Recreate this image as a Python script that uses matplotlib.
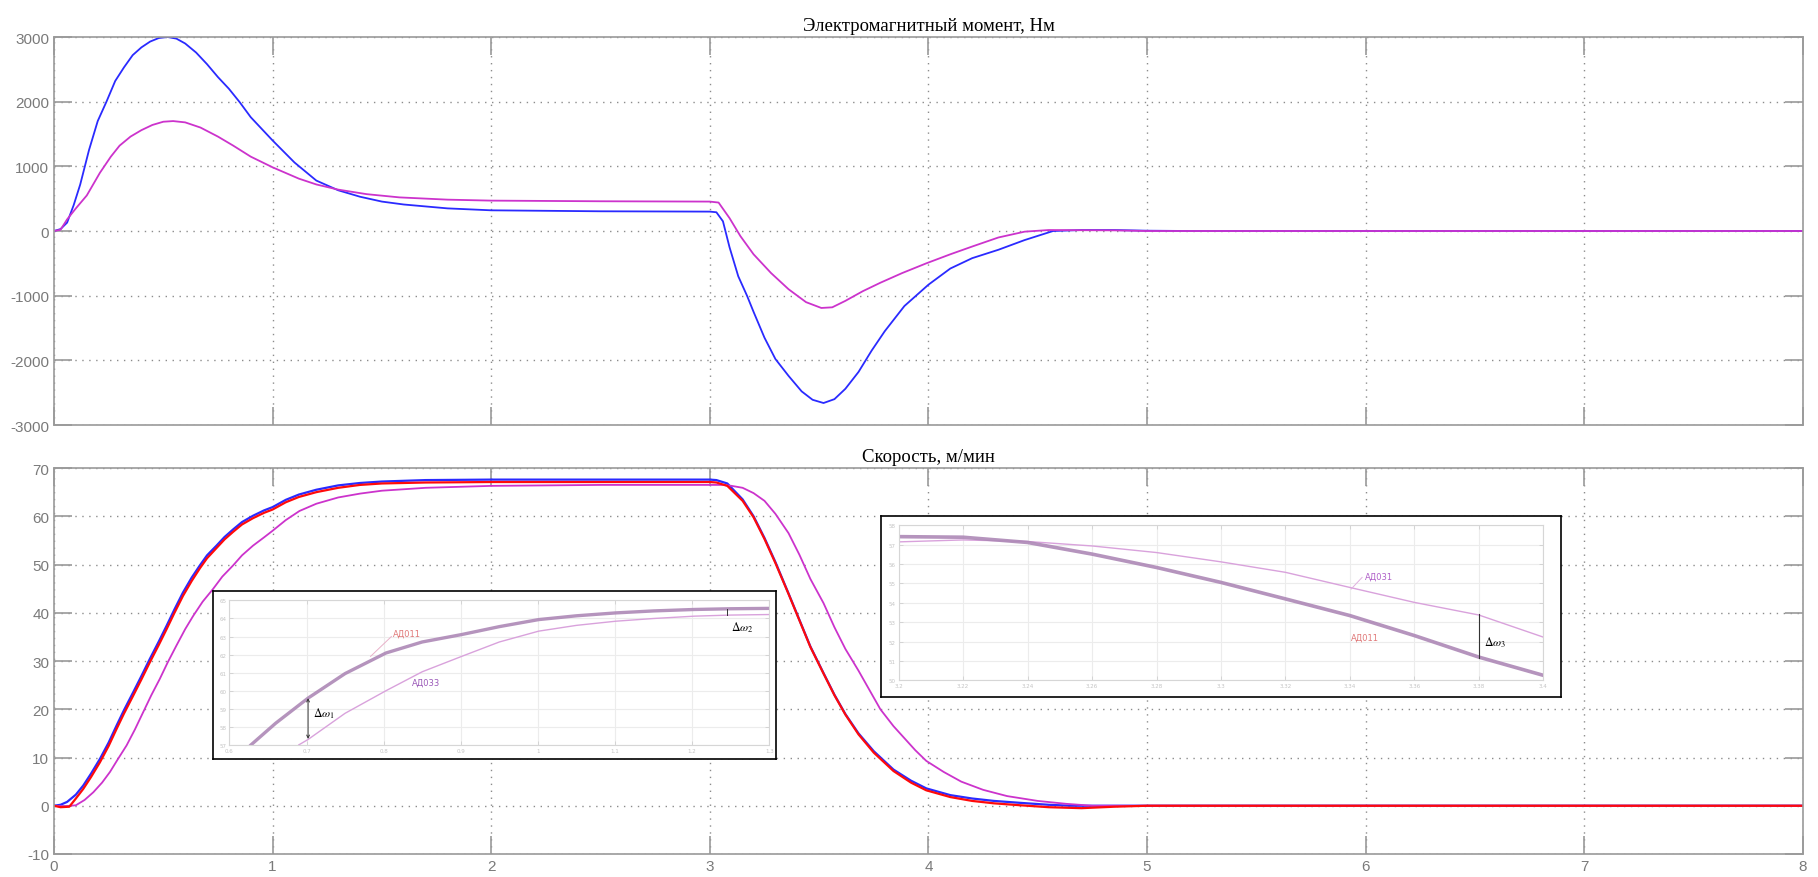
import matplotlib
matplotlib.use("Agg")
import matplotlib.pyplot as plt

plt.rcParams["axes.unicode_minus"] = False

# --- данные: электромагнитный момент ---
t_m_blue = [0, 0.03, 0.06, 0.09, 0.12, 0.16, 0.20, 0.24, 0.28, 0.32, 0.36, 0.40, 0.44,
            0.48, 0.52, 0.56, 0.60, 0.65, 0.70, 0.75, 0.80, 0.85, 0.90, 1.00, 1.10, 1.20,
            1.30, 1.40, 1.50, 1.60, 1.80, 2.00, 2.50, 3.00, 3.03, 3.06, 3.09, 3.13, 3.17,
            3.20, 3.25, 3.30, 3.36, 3.42, 3.47, 3.52, 3.57, 3.62, 3.68, 3.74, 3.80, 3.89,
            4.00, 4.10, 4.20, 4.32, 4.44, 4.57, 4.70, 4.85, 5.00, 5.20, 8.00]
m_blue = [0, 30, 130, 400, 720, 1250, 1700, 2000, 2320, 2530, 2720, 2840, 2930,
          2985, 3000, 2975, 2900, 2760, 2580, 2380, 2200, 1990, 1760, 1400, 1060, 780,
          630, 530, 455, 410, 350, 320, 305, 300, 290, 150, -250, -700, -1000,
          -1250, -1650, -1980, -2240, -2480, -2610, -2660, -2600, -2440, -2180, -1850, -1550, -1160,
          -830, -580, -420, -290, -140, 0, 15, 15, 5, 0, 0]

t_m_mag = [0, 0.03, 0.06, 0.10, 0.15, 0.21, 0.26, 0.30, 0.35, 0.40, 0.45, 0.50, 0.545,
           0.60, 0.67, 0.75, 0.82, 0.90, 1.00, 1.12, 1.20, 1.30, 1.43, 1.58, 1.80, 2.00,
           2.50, 3.00, 3.04, 3.09, 3.14, 3.20, 3.28, 3.36, 3.44, 3.51, 3.56, 3.62, 3.70,
           3.78, 3.88, 3.99, 4.10, 4.20, 4.32, 4.44, 4.55, 4.85, 5.00, 8.00]
m_mag = [0, 20, 180, 350, 550, 900, 1150, 1320, 1460, 1560, 1640, 1690, 1700,
         1680, 1600, 1460, 1320, 1150, 985, 810, 720, 640, 570, 520, 485, 470,
         460, 455, 440, 200, -80, -360, -650, -900, -1100, -1190, -1180, -1080, -930,
         -800, -650, -500, -360, -240, -100, -10, 15, 10, 0, 0]

# --- данные: скорость ---
t_v_blue = [0, 0.03, 0.06, 0.10, 0.134, 0.17, 0.21, 0.25, 0.286, 0.32, 0.362, 0.40, 0.438,
            0.48, 0.515, 0.55, 0.59, 0.63, 0.667, 0.70, 0.743, 0.78, 0.82, 0.86, 0.91, 0.96,
            1.00, 1.06, 1.12, 1.20, 1.30, 1.40, 1.50, 1.70, 2.00, 3.00, 3.03, 3.08, 3.15,
            3.20, 3.25, 3.30, 3.36, 3.41, 3.46, 3.52, 3.57, 3.62, 3.68, 3.75, 3.84, 3.92,
            3.99, 4.10, 4.20, 4.30, 4.42, 4.55, 4.65, 8.00]
v_blue = [0, 0.2, 0.8, 2.3, 4.2, 6.7, 9.7, 13.1, 16.6, 19.8, 23.5, 26.9, 30.4,
          34.1, 37.3, 40.6, 44.2, 47.3, 49.8, 51.9, 53.9, 55.7, 57.3, 58.8, 60.1, 61.2,
          61.9, 63.4, 64.5, 65.5, 66.4, 66.9, 67.2, 67.5, 67.6, 67.6, 67.5, 66.8, 63.5,
          60.0, 55.5, 50.5, 44.0, 38.5, 33.0, 27.5, 23.0, 19.0, 15.0, 11.3, 7.5, 5.2,
          3.6, 2.2, 1.5, 1.0, 0.6, 0.2, 0, 0]

t_v_red = [0, 0.03, 0.07, 0.10, 0.134, 0.17, 0.21, 0.25, 0.286, 0.32, 0.362, 0.40, 0.438,
           0.48, 0.515, 0.55, 0.59, 0.63, 0.667, 0.70, 0.743, 0.78, 0.82, 0.86, 0.91, 0.96,
           1.00, 1.06, 1.12, 1.20, 1.30, 1.40, 1.50, 1.70, 2.00, 3.00, 3.03, 3.08, 3.15,
           3.20, 3.25, 3.30, 3.36, 3.41, 3.46, 3.52, 3.57, 3.62, 3.68, 3.75, 3.84, 3.92,
           3.99, 4.10, 4.20, 4.30, 4.42, 4.55, 4.70, 4.85, 5.00, 8.00]
v_red = [0, -0.3, -0.2, 1.5, 3.5, 6.0, 9.0, 12.4, 15.9, 19.1, 22.8, 26.2, 29.7,
         33.4, 36.6, 39.9, 43.5, 46.6, 49.2, 51.3, 53.4, 55.2, 56.8, 58.3, 59.6, 60.7,
         61.4, 62.9, 64.0, 65.0, 65.9, 66.5, 66.8, 67.0, 67.1, 67.1, 67.0, 66.3, 63.2,
         59.8, 55.3, 50.3, 43.9, 38.4, 32.9, 27.4, 22.9, 18.9, 14.8, 11.0, 7.2, 4.8,
         3.2, 1.8, 1.0, 0.5, 0.1, -0.3, -0.5, -0.2, 0, 0]

t_v_mag = [0, 0.05, 0.10, 0.14, 0.18, 0.22, 0.256, 0.29, 0.332, 0.37, 0.408, 0.445, 0.484,
           0.52, 0.56, 0.60, 0.636, 0.68, 0.727, 0.77, 0.819, 0.86, 0.91, 0.96, 1.00, 1.06,
           1.123, 1.20, 1.30, 1.40, 1.50, 1.70, 2.00, 2.50, 3.00, 3.06, 3.10, 3.15, 3.20,
           3.25, 3.30, 3.36, 3.41, 3.46, 3.52, 3.57, 3.62, 3.68, 3.73, 3.78, 3.84, 3.89,
           3.94, 3.99, 4.07, 4.15, 4.25, 4.36, 4.50, 4.63, 4.75, 8.00]
v_mag = [0, -0.1, 0.1, 1.2, 2.8, 4.8, 7.0, 9.5, 12.5, 15.8, 19.4, 22.9, 26.3,
         29.7, 33.2, 36.6, 39.3, 42.3, 44.9, 47.5, 49.8, 51.9, 53.9, 55.6, 57.0, 59.2,
         61.1, 62.6, 63.9, 64.7, 65.3, 65.9, 66.3, 66.5, 66.5, 66.5, 66.3, 65.9, 64.8,
         63.2, 60.5, 56.5, 52.0, 47.0, 42.0, 37.0, 32.5, 28.0, 24.0, 20.0, 16.5, 14.0,
         11.5, 9.3, 7.0, 5.0, 3.3, 2.0, 1.0, 0.4, 0, 0]

# --- вставка 1 (разгон), собственные координаты вставки ---
ins1_x_thick = [0.28, 0.6, 1.02, 1.5, 2.03, 2.5, 3.01, 3.5, 4.01, 4.5, 5.01, 5.5, 6.03, 6.5, 7.0]
ins1_y_thick = [0.0, 1.2, 2.59, 3.95, 5.09, 5.7, 6.11, 6.55, 6.94, 7.15, 7.31, 7.42, 7.5, 7.54, 7.56]
ins1_x_thin = [0.9, 1.02, 1.5, 2.03, 2.5, 3.01, 3.5, 4.01, 4.5, 5.01, 5.5, 6.03, 6.5, 7.0]
ins1_y_thin = [0.0, 0.3, 1.75, 3.0, 4.05, 4.9, 5.7, 6.3, 6.62, 6.85, 7.0, 7.13, 7.19, 7.22]
ins1_xlabels = ["0.6", "0.7", "0.8", "0.9", "1", "1.1", "1.2", "1.3"]
ins1_ylabels = ["57", "58", "59", "60", "61", "62", "63", "64", "65"]

# --- вставка 2 (торможение) ---
ins2_x_thick = [0, 1, 2, 3, 4, 5, 6, 7, 8, 9, 10]
ins2_y_thick = [7.41, 7.38, 7.11, 6.51, 5.82, 5.05, 4.2, 3.34, 2.31, 1.2, 0.26]
ins2_x_thin = [0, 1, 2, 3, 4, 5, 6, 7, 8, 9, 10]
ins2_y_thin = [7.14, 7.24, 7.16, 6.93, 6.59, 6.11, 5.57, 4.79, 4.02, 3.37, 2.23]
ins2_xlabels = ["3.2", "3.22", "3.24", "3.26", "3.28", "3.3", "3.32", "3.34", "3.36", "3.38", "3.4"]
ins2_ylabels = ["50", "51", "52", "53", "54", "55", "56", "57", "58"]

BLUE = "#2a2aff"
MAG = "#cc33cc"
RED = "#ff0a0a"
GRAY = "#9a9a9a"

fig = plt.figure(figsize=(18.18, 8.78), dpi=100)
ax1 = fig.add_axes([0.0297, 0.5148, 0.962, 0.4419])
ax2 = fig.add_axes([0.0297, 0.0262, 0.962, 0.4396])


def scope_style(ax, title):
    ax.set_xlim(0, 8)
    ax.grid(True, linestyle=(0, (1, 4)), color="#8c8c8c", linewidth=1.0)
    ax.tick_params(direction="in", length=13, width=1.2, color=GRAY,
                   labelcolor="#7a7a7a", labelsize=11,
                   top=True, right=True)
    for s in ax.spines.values():
        s.set_color(GRAY)
        s.set_linewidth(1.2)
    for lbl in ax.get_xticklabels() + ax.get_yticklabels():
        lbl.set_fontfamily("Liberation Sans")
    ax.set_title(title, fontfamily="Liberation Serif", fontsize=13.5, pad=5)


ax1.plot(t_m_blue, m_blue, color=BLUE, lw=1.3)
ax1.plot(t_m_mag, m_mag, color=MAG, lw=1.3)
ax1.set_ylim(-3000, 3000)
ax1.set_yticks(range(-3000, 3001, 1000))
ax1.set_xticks(range(0, 9))
ax1.tick_params(labelbottom=False)
scope_style(ax1, "Электромагнитный момент, Нм")

ax2.plot(t_v_blue, v_blue, color=BLUE, lw=1.6)
ax2.plot(t_v_mag, v_mag, color=MAG, lw=1.3)
ax2.plot(t_v_red, v_red, color=RED, lw=1.6)
ax2.set_ylim(-10, 70)
ax2.set_yticks(range(-10, 71, 10))
ax2.set_xticks(range(0, 9))
scope_style(ax2, "Скорость, м/мин")


def make_inset(box_rect, inner, xlabels, ylabels):
    box = fig.add_axes(box_rect)
    box.set_xticks([])
    box.set_yticks([])
    for s in box.spines.values():
        s.set_color("black")
        s.set_linewidth(1.2)
    l, b, w, h = box_rect
    il, ib, iw, ih = inner
    ax = fig.add_axes([l + il * w, b + ib * h, iw * w, ih * h])
    ax.set_xlim(0, len(xlabels) - 1)
    ax.set_ylim(0, len(ylabels) - 1)
    ax.set_xticks(range(len(xlabels)))
    ax.set_yticks(range(len(ylabels)))
    ax.set_xticklabels(xlabels)
    ax.set_yticklabels(ylabels)
    ax.grid(True, color="#ececec", linewidth=0.8)
    ax.tick_params(direction="in", length=3, width=0.6, color="#d0d0d0",
                   labelcolor="#c4c4c4", labelsize=4, pad=2, right=True, top=True)
    for s in ax.spines.values():
        s.set_color("#d6d6d6")
        s.set_linewidth(0.8)
    return ax


in1 = make_inset([0.1172, 0.1344, 0.3097, 0.1913], [0.029, 0.084, 0.959, 0.86],
                 ins1_xlabels, ins1_ylabels)
in1.plot(ins1_x_thin, ins1_y_thin, color="#d9a2dc", lw=1.0)
in1.plot(ins1_x_thick, ins1_y_thick, color="#ad88b6", lw=2.4, alpha=0.9)
in1.plot([1.83, 2.1], [4.9, 6.0], color="#e8b0c8", lw=0.7)
in1.text(2.12, 6.2, "АД011", color="#e07878", fontsize=6, va="center")
in1.text(2.37, 3.5, "АД033", color="#9a58b8", fontsize=6, va="center")
in1.annotate("", xy=(1.02, 0.33), xytext=(1.02, 2.59),
             arrowprops=dict(arrowstyle="<->", color="#333333", lw=0.7,
                             mutation_scale=5, shrinkA=0, shrinkB=0))
in1.text(1.09, 1.8, r"$\Delta\omega_1$", fontsize=8.5, math_fontfamily="stix", va="center")
in1.plot([6.45, 6.45], [7.2, 7.5], color="#333333", lw=0.7)
in1.text(6.5, 6.55, r"$\Delta\omega_2$", fontsize=8.5, math_fontfamily="stix", va="center")

in2 = make_inset([0.4846, 0.205, 0.374, 0.2062], [0.026, 0.092, 0.948, 0.857],
                 ins2_xlabels, ins2_ylabels)
in2.plot(ins2_x_thin, ins2_y_thin, color="#d9a2dc", lw=1.0)
in2.plot(ins2_x_thick, ins2_y_thick, color="#ad88b6", lw=2.6, alpha=0.9)
in2.plot([7.02, 7.19], [4.71, 5.31], color="#e0b0e0", lw=0.7)
in2.text(7.23, 5.39, "АД031", color="#b060c8", fontsize=6, va="center")
in2.text(7.02, 2.23, "АД011", color="#e07878", fontsize=6, va="center")
in2.plot([9.0, 9.0], [1.15, 3.42], color="#333333", lw=0.8)
in2.text(9.08, 1.97, r"$\Delta\omega_3$", fontsize=8.5, math_fontfamily="stix", va="center")

fig.savefig("out.png", dpi=100)
